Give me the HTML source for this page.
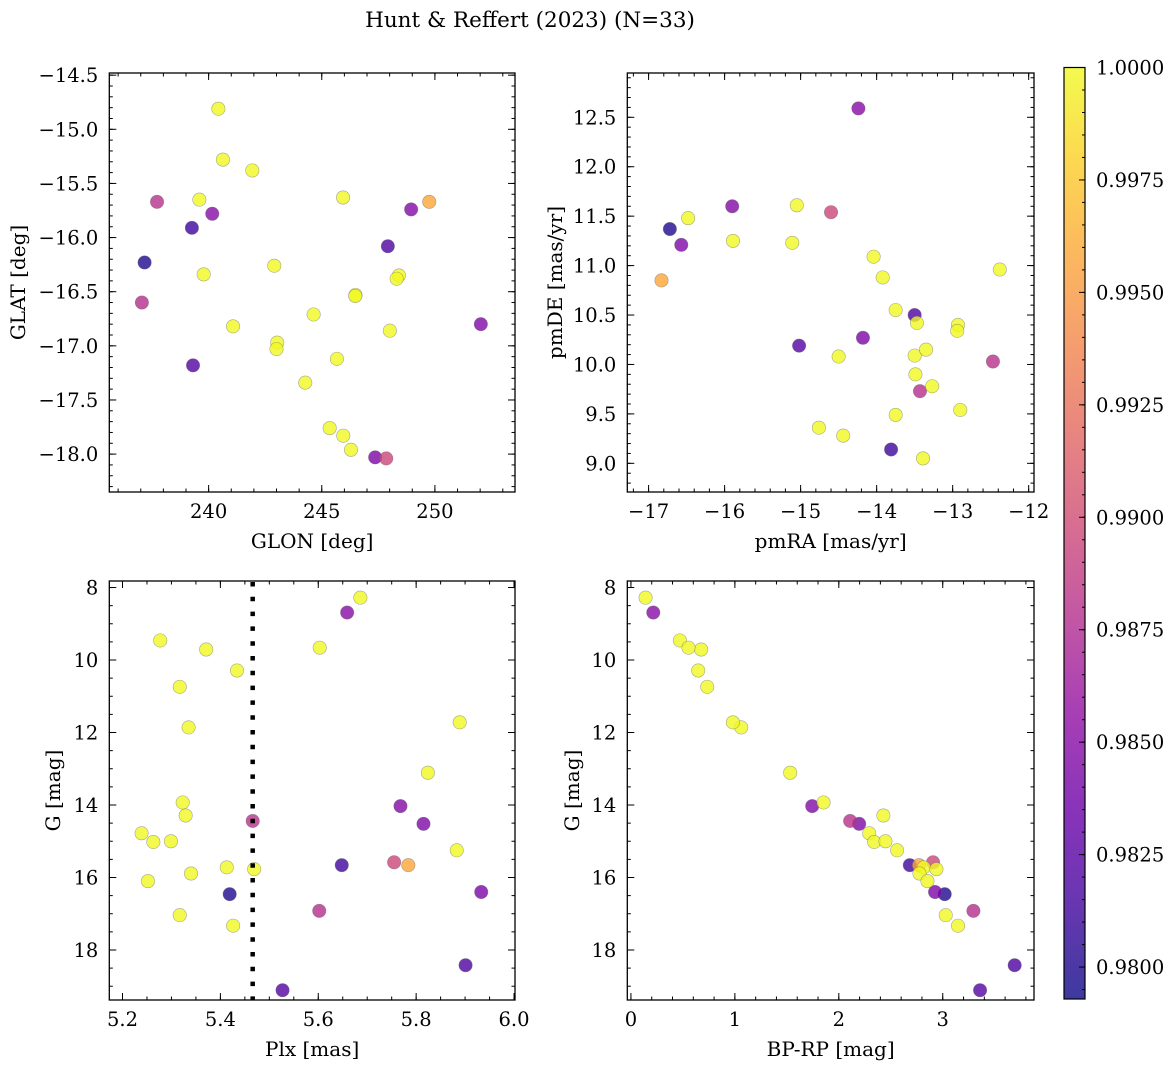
<!DOCTYPE html>
<html><head><meta charset="utf-8">
<style>
html,body{margin:0;padding:0;background:#fff;}
svg{display:block;font-family:"DejaVu Serif","Liberation Serif",serif;}
</style></head>
<body>
<svg id="chart" width="1173" height="1067" viewBox="0 0 1173 1067" xmlns="http://www.w3.org/2000/svg">
<text x="530" y="27" text-anchor="middle" font-size="21.5">Hunt &amp; Reffert (2023) (N=33)</text>
</svg>
<script>
const prob = [1,0.9850,1,1,1,1,1,1,1,1,1,0.9848,1,0.9880,0.9845,1,1,1,1,0.9895,0.9958,0.9812,1,1,1,1,0.9800,0.9843,0.9878,1,1,0.9820,0.9822];
const plx = [5.686,5.659,5.277,5.371,5.603,5.434,5.317,5.335,5.889,5.824,5.323,5.768,5.329,5.466,5.815,5.239,5.263,5.299,5.883,5.755,5.784,5.648,5.413,5.469,5.340,5.252,5.419,5.933,5.602,5.317,5.426,5.901,5.527];
const gmag = [8.28,8.69,9.46,9.71,9.66,10.29,10.74,11.86,11.72,13.11,13.93,14.03,14.29,14.44,14.52,14.78,15.02,15.00,15.25,15.58,15.66,15.66,15.72,15.77,15.89,16.10,16.46,16.40,16.92,17.04,17.33,18.42,19.11];
const bprp = [0.141,0.215,0.471,0.676,0.554,0.647,0.734,1.061,0.981,1.532,1.853,1.744,2.429,2.109,2.196,2.292,2.340,2.449,2.561,2.907,2.772,2.683,2.817,2.939,2.776,2.853,3.019,2.926,3.295,3.029,3.147,3.692,3.359];
const glon = [240.43,240.16,240.63,241.93,239.59,245.94,239.78,242.90,248.41,248.31,246.49,248.95,246.48,237.72,252.03,244.64,241.08,248.01,243.03,247.85,249.75,239.26,243.00,245.67,244.27,245.35,237.17,247.36,237.05,245.95,246.29,247.92,239.31];
const glat = [-14.81,-15.78,-15.28,-15.38,-15.65,-15.63,-16.34,-16.26,-16.35,-16.38,-16.53,-15.74,-16.54,-15.67,-16.80,-16.71,-16.82,-16.86,-16.97,-18.04,-15.67,-15.91,-17.03,-17.12,-17.34,-17.76,-16.23,-18.03,-16.60,-17.83,-17.96,-16.08,-17.18];
const pmra = [-15.05,-14.24,-16.48,-15.89,-15.11,-14.04,-13.92,-12.38,-13.75,-13.47,-12.93,-15.90,-12.94,-12.47,-16.57,-14.50,-13.50,-13.35,-13.49,-14.60,-16.83,-13.81,-13.27,-12.90,-13.75,-14.76,-16.72,-14.18,-13.43,-14.44,-13.39,-13.50,-15.02];
const pmde = [11.61,12.59,11.48,11.25,11.23,11.09,10.88,10.96,10.55,10.42,10.40,11.60,10.34,10.03,11.21,10.08,10.09,10.15,9.90,11.54,10.85,9.14,9.78,9.54,9.49,9.36,11.37,10.27,9.73,9.28,9.05,10.50,10.19];
const plxLine = [5.466];
const cbTicks = [0.9800,0.9825,0.9850,0.9875,0.9900,0.9925,0.9950,0.9975,1.0000];
const vmin = 0.97929, vmax = 1.0;

const NS = "http://www.w3.org/2000/svg";
const svg = document.getElementById('chart');
function mk(tag, attrs, parent){const e=document.createElementNS(NS,tag);for(const k in attrs)e.setAttribute(k,attrs[k]);(parent||svg).appendChild(e);return e;}

const plasma = [[13,8,135],[65,4,157],[106,0,168],[143,13,164],[177,42,144],[204,71,120],[225,100,98],[242,132,75],[252,166,54],[252,206,37],[240,249,33]];
function cmap(v){let t=(v-vmin)/(vmax-vmin);t=Math.max(0,Math.min(1,t));const s=t*10;const i=Math.min(9,Math.floor(s));const f=s-i;const a=plasma[i],b=plasma[i+1];return 'rgb('+[0,1,2].map(j=>Math.round(a[j]+(b[j]-a[j])*f)).join(',')+')';}
function fmt(v,d){return (v<0?'\u2212':'')+Math.abs(v).toFixed(d);}

const FS = 19.5, LFS = 20;
const panels = [
 {name:'glon-glat',x0:109.3,x1:515,y0:73,y1:492,xmin:235.61,xmax:253.54,ymin:-18.35,ymax:-14.48,inv:false,
  xs:glon,ys:glat,xt:[240,245,250],xd:0,xminor:1,yt:[-18,-17.5,-17,-16.5,-16,-15.5,-15,-14.5],yd:1,yminor:0.1,xl:'GLON [deg]',yl:'GLAT [deg]',ylx:18},
 {name:'pmra-pmde',x0:627.3,x1:1034,y0:73,y1:492,xmin:-17.28,xmax:-11.93,ymin:8.71,ymax:12.948,inv:false,
  xs:pmra,ys:pmde,xt:[-17,-16,-15,-14,-13,-12],xd:0,xminor:0.2,yt:[9,9.5,10,10.5,11,11.5,12,12.5],yd:1,yminor:0.1,xl:'pmRA [mas/yr]',yl:'pmDE [mas/yr]',ylx:555},
 {name:'plx-g',x0:109.3,x1:515,y0:581,y1:1000,xmin:5.173,xmax:6.002,ymin:7.82,ymax:19.38,inv:true,
  xs:plx,ys:gmag,xt:[5.2,5.4,5.6,5.8,6.0],xd:1,xminor:0.05,yt:[8,10,12,14,16,18],yd:0,yminor:0.5,xl:'Plx [mas]',yl:'G [mag]',ylx:53},
 {name:'bprp-g',x0:627.3,x1:1034,y0:581,y1:1000,xmin:-0.035,xmax:3.878,ymin:7.82,ymax:19.38,inv:true,
  xs:bprp,ys:gmag,xt:[0,1,2,3],xd:0,xminor:0.2,yt:[8,10,12,14,16,18],yd:0,yminor:0.5,xl:'BP-RP [mag]',yl:'G [mag]',ylx:572}
];

const order = prob.map((p,i)=>i).sort((a,b)=>prob[a]-prob[b]);

panels.forEach(P=>{
  const g = mk('g',{});
  
  
  const sx = v => P.x0 + (v-P.xmin)/(P.xmax-P.xmin)*(P.x1-P.x0);
  const sy = v => P.inv ? P.y0 + (v-P.ymin)/(P.ymax-P.ymin)*(P.y1-P.y0) : P.y1 - (v-P.ymin)/(P.ymax-P.ymin)*(P.y1-P.y0);
  const ticks = mk('g',{stroke:'#000','stroke-width':1},g);
  
  
  for(let v=Math.ceil(P.xmin/P.xminor)*P.xminor; v<=P.xmax+1e-9; v+=P.xminor){
    const x=sx(v); mk('line',{x1:x,x2:x,y1:P.y1,y2:P.y1-3.5},ticks); mk('line',{x1:x,x2:x,y1:P.y0,y2:P.y0+3.5},ticks);
  }
  const ylo=Math.min(P.ymin,P.ymax), yhi=Math.max(P.ymin,P.ymax);
  for(let v=Math.ceil(ylo/P.yminor)*P.yminor; v<=yhi+1e-9; v+=P.yminor){
    const y=sy(v); mk('line',{x1:P.x0,x2:P.x0+3.5,y1:y,y2:y},ticks); mk('line',{x1:P.x1,x2:P.x1-3.5,y1:y,y2:y},ticks);
  }
  P.xt.forEach(v=>{
    const x=sx(v);
    mk('line',{x1:x,x2:x,y1:P.y1,y2:P.y1-7},ticks); mk('line',{x1:x,x2:x,y1:P.y0,y2:P.y0+7},ticks);
    const t=mk('text',{x:x,y:P.y1+26,'text-anchor':'middle','font-size':FS},g); t.textContent=fmt(v,P.xd);
    
    
  });
  P.yt.forEach(v=>{
    const y=sy(v);
    mk('line',{x1:P.x0,x2:P.x0+7,y1:y,y2:y},ticks); mk('line',{x1:P.x1,x2:P.x1-7,y1:y,y2:y},ticks);
    const t=mk('text',{x:P.x0-11,y:y+7,'text-anchor':'end','font-size':FS},g); t.textContent=fmt(v,P.yd);
    
    
  });
  const pts = mk('g',{},g);
  
  
  order.forEach(i=>{
    const c = mk('circle',{cx:sx(P.xs[i]),cy:sy(P.ys[i]),r:6.7,fill:cmap(prob[i]),'fill-opacity':0.8,stroke:'#666','stroke-opacity':0.55,'stroke-width':0.6},pts);
    
    
  });
  if(P.name==='plx-g'){
    const x=sx(plxLine[0]);
    const l=mk('line',{x1:x,x2:x,y1:P.y0+1,y2:P.y1,stroke:'#000','stroke-width':4.5,'stroke-dasharray':'4.5 10.3'},g);
    
    
  }
  const fr=mk('rect',{x:P.x0,y:P.y0,width:P.x1-P.x0,height:P.y1-P.y0,fill:'none',stroke:'#000','stroke-width':1.3},g);
  
  
  const xl=mk('text',{x:(P.x0+P.x1)/2,y:P.y1+56,'text-anchor':'middle','font-size':LFS},g); xl.textContent=P.xl;
  
  
  const yc=(P.y0+P.y1)/2;
  const yl=mk('text',{x:P.ylx,y:yc,'text-anchor':'middle','font-size':LFS,transform:'rotate(-90 '+P.ylx+' '+yc+')','dominant-baseline':'central'},g); yl.textContent=P.yl;
  
  
});

const cb = {x0:1064,x1:1085,y0:67.5,y1:999};
const defs = mk('defs',{});
const grad = mk('linearGradient',{id:'plasmaGrad',x1:0,y1:1,x2:0,y2:0},defs);
plasma.forEach((c,i)=>mk('stop',{offset:(i*10)+'%','stop-color':'rgb('+c.join(',')+')','stop-opacity':0.8},grad));
const cbg = mk('g',{});


mk('rect',{x:cb.x0,y:cb.y0,width:cb.x1-cb.x0,height:cb.y1-cb.y0,fill:'url(#plasmaGrad)'},cbg);
const cy = v => cb.y1 - (v-vmin)/(vmax-vmin)*(cb.y1-cb.y0);
for(let v=0.9795; v<=1.00001; v+=0.0005){
  const y=cy(v); if(y<cb.y0-0.5||y>cb.y1) continue;
  mk('line',{x1:cb.x1,x2:cb.x1-3,y1:y,y2:y,stroke:'#000','stroke-width':1},cbg);
}
cbTicks.forEach(v=>{
  const y=cy(v);
  mk('line',{x1:cb.x1,x2:cb.x1-6,y1:y,y2:y,stroke:'#000','stroke-width':1},cbg);
  const t=mk('text',{x:1096,y:y+7,'font-size':FS},cbg); t.textContent=v.toFixed(4);
  
  
});
mk('rect',{x:cb.x0,y:cb.y0,width:cb.x1-cb.x0,height:cb.y1-cb.y0,fill:'none',stroke:'#000','stroke-width':1.2},cbg);
</script>
</body></html>
